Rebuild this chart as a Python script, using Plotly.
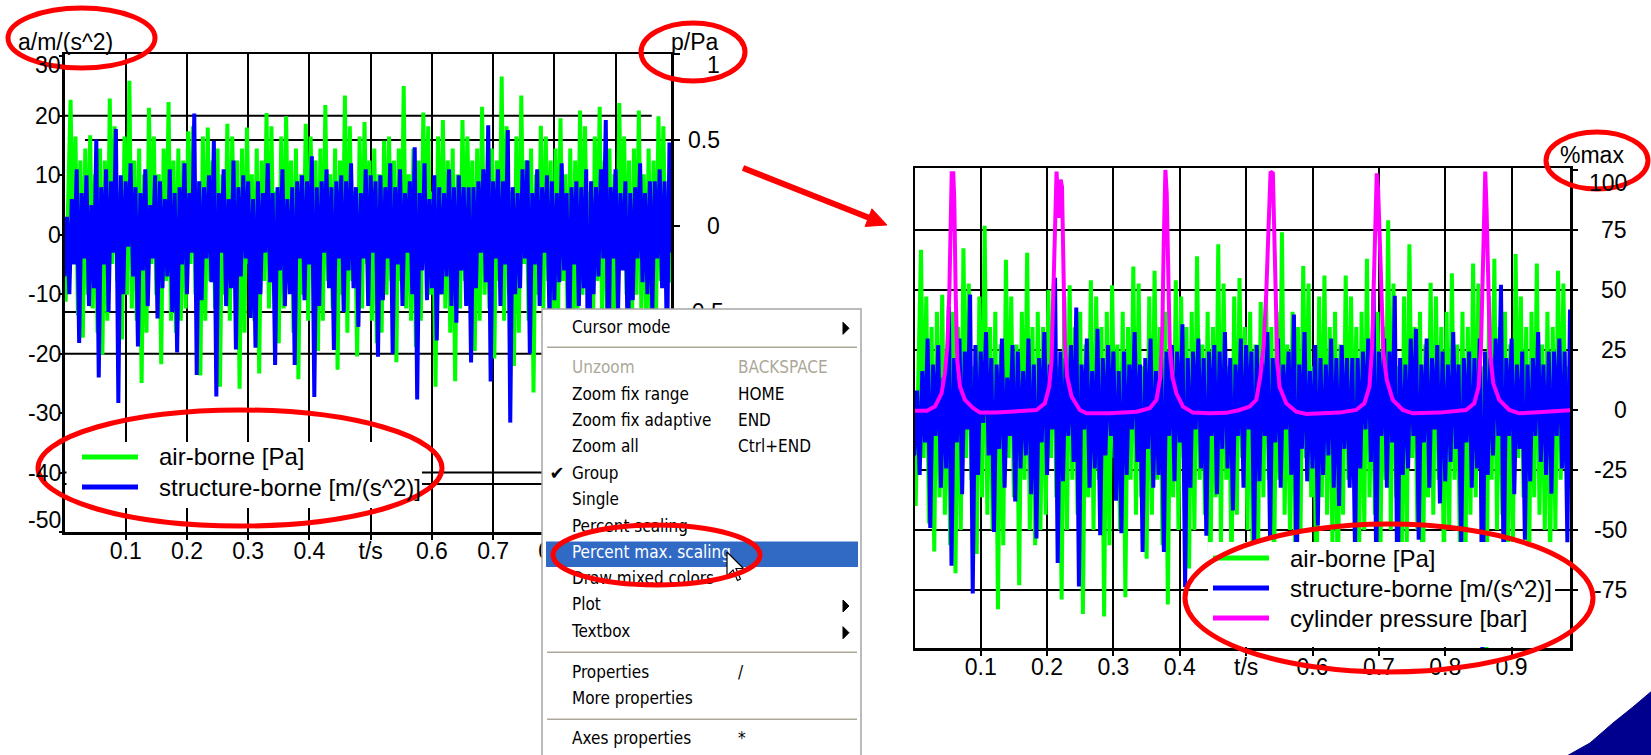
import plotly.graph_objects as go

W, H = 1651, 755
FONT = "Liberation Sans, Arial, Helvetica, sans-serif"
MENU_FONT = "DejaVu Sans Condensed, DejaVu Sans, sans-serif"

# ---------------- data ----------------
SAMPLE_DT = 0.004          # s, spacing of the read-off vertices
AIR_T0 = 0.002             # s, first air-borne vertex
STRUCT_T0 = 0.0            # s, first structure-borne vertex

# air-borne sound pressure [Pa]
air_borne_pa = [
    -0.440, 0.28, 0.734, -0.22, 0.52, -0.52, 0.38, -0.649,
    0.45, -0.40, 0.528, -0.48, 0.30, -0.62, 0.45, -0.748,
    0.38, -0.55, 0.741, -0.22, 0.58, -0.32, 0.20, -0.660,
    0.52, -0.40, 0.844, -0.48, 0.38, -0.55, 0.45, -0.913,
    0.30, -0.62, 0.688, -0.22, 0.52, -0.40, 0.30, -0.803,
    0.45, -0.32, 0.721, -0.55, 0.38, -0.62, 0.45, -0.550,
    0.38, -0.48, 0.550, -0.22, 0.58, -0.40, 0.20, -0.869,
    0.52, -0.55, 0.572, -0.32, 0.38, -0.48, 0.45, -0.935,
    0.30, -0.40, 0.594, -0.55, 0.52, -0.32, 0.38, -0.946,
    0.45, -0.62, 0.572, -0.22, 0.30, -0.55, 0.45, -0.858,
    0.38, -0.32, 0.657, -0.48, 0.58, -0.40, 0.20, -0.682,
    0.52, -0.48, 0.638, -0.32, 0.38, -0.62, 0.45, -0.891,
    0.30, -0.40, 0.594, -0.55, 0.52, -0.22, 0.38, -0.726,
    0.45, -0.55, 0.704, -0.32, 0.30, -0.48, 0.45, -0.836,
    0.38, -0.40, 0.759, -0.62, 0.58, -0.32, 0.20, -0.759,
    0.52, -0.48, 0.605, -0.22, 0.38, -0.55, 0.45, -0.682,
    0.30, -0.62, 0.495, -0.40, 0.52, -0.32, 0.38, -0.792,
    0.45, -0.32, 0.814, -0.48, 0.30, -0.55, 0.45, -0.704,
    0.38, -0.55, 0.660, -0.22, 0.58, -0.40, 0.20, -0.935,
    0.52, -0.40, 0.616, -0.48, 0.38, -0.62, 0.45, -0.902,
    0.30, -0.48, 0.616, -0.32, 0.52, -0.22, 0.38, -0.726,
    0.45, -0.55, 0.693, -0.40, 0.30, -0.48, 0.45, -0.770,
    0.38, -0.32, 0.869, -0.55, 0.58, -0.40, 0.20, -0.814,
    0.52, -0.62, 0.759, -0.22, 0.38, -0.55, 0.45, -0.968,
    0.30, -0.40, 0.583, -0.48, 0.52, -0.32, 0.38, -0.748,
    0.45, -0.55, 0.627, -0.32, 0.30, -0.62, 0.45, -0.836,
    0.38, -0.48, 0.671, -0.40, 0.58, -0.22, 0.20, -1.100,
    0.52, -0.32, 0.693, -0.55, 0.38, -0.48, 0.45, -0.792,
    0.30, -0.62, 0.715, -0.22, 0.52, -0.40, 0.38, -0.880,
    0.45, -0.40, 0.671, -0.48, 0.30, -0.55, 0.45, -0.726,
    0.38, -0.55, 0.638, -0.32, 0.58, -0.22, 0.20, -0.330,
    0.38,
]

# structure-borne acceleration [m/s^2]
structure_borne_ms2 = [
    -7, 3, -10, 6, -5, 11, -18.2, 7,
    -4, 10, -12, 5, -9, 16, -24, 8,
    -5, 11, -13, 9, -3, 17.8, -28.3, 10,
    -10, 9, -2, 12, -7, 8, -18.8, 7,
    -6, 11, -12, 5, -4, 10, -14.1, 9,
    -9, 6, -7, 11, -13, 7, -19.8, 8,
    -5, 12, -10, 7, -3, 20.4, -23.6, 9,
    -11, 8, -4, 10, -8, 15.8, -27.2, 7,
    -3, 11, -12, 6, -9, 12.5, -19.3, 8,
    -7, 10, -4, 9, -14, 6, -19, 9,
    -10, 7, -3, 12, -8, 7, -21.9, 8,
    -6, 11, -12, 6, -10, 8, -21.9, 9,
    -4, 10, -11, 9, -5, 13.2, -27.3, 8,
    -12, 9, -3, 11, -9, 8, -19.4, 9,
    -4, 10, -13, 9, -6, 12, -9, 8,
    -15.5, 7, -4, 11, -12, 10, -3, 9,
    -20.5, 10, -11, 8, -4, 12, -20, 8,
    -5, 11, -12, 7, -3, 9, -10, 14.7,
    -27.7, 7, -6, 12, -11, 6, -9, 10,
    -17.8, 8, -10, 7, -7, 11, -12, 8,
    -14.8, 10, -6, 8, -12, 8, -21.5, 8,
    -9, 9, -3, 11, -8, 18.4, -24.7, 9,
    -4, 11, -12, 9, -5, 17.6, -31.6, 8,
    -10, 7, -9, 11, -4, 12.5, -20, 7,
    -5, 11, -12, 8, -3, 10, -14.4, 9,
    -11, 7, -8, 12, -6, 7, -21, 8,
    -5, 9, -12, 8, -9, 11, -37, 9,
    -10, 8, -7, 11, -4, 19.3, -26, 8,
    -4, 11, -13, 7, -6, 9, -20, 7,
    -11, 8, -4, 12, -8, 7, -10, 9,
    -12.9, 9, -4, 11, -9, 9, -20.4, 15.5,
    -3,
]

# cylinder pressure, already in % of its maximum
cyl_t = [
    0.000, 0.019, 0.031, 0.041, 0.046, 0.0497, 0.0527, 0.0548, 0.0563, 0.0587,
    0.0602, 0.0623, 0.0647, 0.0688, 0.0763, 0.0888, 0.0989, 0.124, 0.159, 0.184,
    0.1967, 0.2032, 0.2068, 0.2092, 0.2122, 0.2143, 0.2175, 0.2205, 0.2225, 0.2245,
    0.2268, 0.2303, 0.2369, 0.2494, 0.2594, 0.2945, 0.3347, 0.3547, 0.3648, 0.3708,
    0.3738, 0.3758, 0.3783, 0.3803, 0.3822, 0.3848, 0.3888, 0.3949, 0.4048, 0.4199,
    0.445, 0.470, 0.490, 0.5052, 0.5153, 0.5213, 0.5263, 0.5303, 0.5338, 0.5368,
    0.5403, 0.5424, 0.5443, 0.5469, 0.5503, 0.5604, 0.5755, 0.5905, 0.6406, 0.6658,
    0.6782, 0.6858, 0.6898, 0.6923, 0.6948, 0.6968, 0.6989, 0.7009, 0.7034, 0.7069,
    0.7119, 0.7209, 0.736, 0.751, 0.7911, 0.8313, 0.8438, 0.8503, 0.8539, 0.8563,
    0.8588, 0.8603, 0.8623, 0.8645, 0.8675, 0.8724, 0.8814, 0.8965, 0.9115, 0.9517,
    0.9842, 0.992,
]
cyl_pct = [
    -0.3, -0.3, 1.4, 6.9, 15.3, 26.4, 48.6, 76.4, 98.6, 98.6,
    87.5, 48.6, 20.8, 9.7, 4.2, 0.7, -1.1, -1.1, -0.7, 0.0,
    2.8, 9.7, 20.8, 48.6, 90.3, 99.3, 80.0, 96.0, 93.0, 62.5,
    27.8, 13.9, 5.6, 0.0, -1.4, -1.4, -0.7, 0.7, 4.2, 13.9,
    34.7, 69.4, 100.0, 90.3, 55.6, 27.8, 13.9, 6.9, 1.4, -1.1,
    -1.4, -1.2, 0.0, 1.4, 4.2, 13.9, 26.4, 48.6, 76.4, 99.3,
    98.6, 76.4, 41.7, 20.8, 9.7, 2.8, -0.7, -1.7, -1.1, 0.0,
    2.8, 9.7, 26.4, 55.6, 90.3, 98.6, 91.7, 76.4, 48.6, 23.6,
    12.5, 4.2, 0.0, -1.4, -1.1, 0.0, 2.8, 9.7, 26.4, 55.6,
    90.3, 99.3, 83.3, 48.6, 23.6, 11.1, 4.2, 0.0, -1.4, -0.7,
    0.0, 0.0,
]

time_ticks = [0.1, 0.2, 0.3, 0.4, 0.5, 0.6, 0.7, 0.8, 0.9]
time_ticktext = ["0.1", "0.2", "0.3", "0.4", "t/s", "0.6", "0.7", "0.8", "0.9"]
# left chart: the 0.9 label lies completely under the context menu
left_time_ticktext = ["0.1", "0.2", "0.3", "0.4", "t/s", "0.6", "0.7", "0.8", ""]
accel_ticks = [30, 20, 10, 0, -10, -20, -30, -40, -50]
accel_grid = [20, 0, -20, -40]
press_ticks = [1, 0.5, 0, -0.5, -1, -1.5]
press_grid = [0.5, 0, -0.5, -1.5]
pct_ticks = [100, 75, 50, 25, 0, -25, -50, -75, -100]
pct_grid = [75, 50, 25, 0, -25, -50, -75]

series_names = ["air-borne [Pa]", "structure-borne [m/(s^2)]", "cylinder pressure [bar]"]
series_colors = ["#00ff00", "#0000ff", "#ff00ff"]

menu_labels = ["Cursor mode", "Unzoom", "Zoom fix range", "Zoom fix adaptive", "Zoom all",
               "Group", "Single", "Percent scaling", "Percent max. scaling",
               "Draw mixed colors", "Plot", "Textbox", "Properties", "More properties",
               "Axes properties"]
menu_shortcuts = ["", "BACKSPACE", "HOME", "END", "Ctrl+END", "", "", "", "", "", "", "",
                  "/", "", "*"]

# ---------------- derived ----------------
t_air = [AIR_T0 + i * SAMPLE_DT for i in range(len(air_borne_pa))]
t_struct = [STRUCT_T0 + i * SAMPLE_DT for i in range(len(structure_borne_ms2))]


def pct_max(vals):
    m = max(abs(v) for v in vals)
    return [100.0 * v / m for v in vals]


def px(x):
    return x / W


def py(y):
    return 1 - y / H


# ---------------- layout geometry (pixels) ----------------
L_X0, L_X1, L_Y0, L_Y1 = 64.7, 671, 54, 532
R_X0, R_X1, R_Y0, R_Y1 = 915, 1570, 168.3, 648.3
MENU_X0, MENU_X1, MENU_Y0 = 542, 861, 309
menu_y = [328.3, 369, 396, 421.7, 448, 474.3, 501, 527.3, 554, 580, 606, 632.7, 673.3, 700, 740]
DISABLED, HILITE, CHECKED = 1, 8, 5
SUBMENU = [0, 10, 11]
SEPARATORS = [347.3, 652.3, 719.3]

fig = go.Figure()

LW = 4
# left chart: green on the pressure axis (y), blue on the acceleration axis (y2, drawn on top)
fig.add_trace(go.Scatter(x=t_air, y=air_borne_pa, mode="lines", xaxis="x", yaxis="y",
                         line=dict(color=series_colors[0], width=LW)))
fig.add_trace(go.Scatter(x=t_struct, y=structure_borne_ms2, mode="lines", xaxis="x", yaxis="y2",
                         line=dict(color=series_colors[1], width=LW)))
# right chart (percent of max)
fig.add_trace(go.Scatter(x=t_air, y=pct_max(air_borne_pa), mode="lines", xaxis="x2", yaxis="y3",
                         line=dict(color=series_colors[0], width=LW)))
fig.add_trace(go.Scatter(x=t_struct, y=pct_max(structure_borne_ms2), mode="lines", xaxis="x2",
                         yaxis="y3", line=dict(color=series_colors[1], width=LW)))
fig.add_trace(go.Scatter(x=cyl_t, y=pct_max(cyl_pct), mode="lines", xaxis="x2", yaxis="y3",
                         line=dict(color=series_colors[2], width=LW)))

# ---------------- context menu (overlay subplot in pixel coordinates) ----------------
OV = dict(xaxis="x3", yaxis="y4", hoverinfo="skip", showlegend=False)
fig.add_trace(go.Scatter(x=[MENU_X0, MENU_X1, MENU_X1, MENU_X0, MENU_X0],
                         y=[MENU_Y0, MENU_Y0, H + 2, H + 2, MENU_Y0], mode="lines",
                         fill="toself", fillcolor="white",
                         line=dict(color="#a5a5a5", width=1.5), **OV))
hy = menu_y[HILITE]
fig.add_trace(go.Scatter(x=[546, 858, 858, 546, 546], y=[hy - 12.5, hy - 12.5, hy + 13, hy + 13, hy - 12.5],
                         mode="lines", fill="toself", fillcolor="#316ac5",
                         line=dict(color="#316ac5", width=0), **OV))
sx, sy = [], []
for s in SEPARATORS:
    sx += [547, 857, None]
    sy += [s, s, None]
fig.add_trace(go.Scatter(x=sx, y=sy, mode="lines", line=dict(color="#aca899", width=1.5), **OV))
txt_colors = []
for i in range(len(menu_labels)):
    txt_colors.append("#aca899" if i == DISABLED else ("white" if i == HILITE else "black"))
fig.add_trace(go.Scatter(x=[572] * len(menu_labels), y=menu_y, mode="text", text=menu_labels,
                         textposition="middle right", cliponaxis=False,
                         textfont=dict(family=MENU_FONT, size=17, color=txt_colors), **OV))
sc_idx = [i for i, s in enumerate(menu_shortcuts) if s]
fig.add_trace(go.Scatter(x=[738] * len(sc_idx), y=[menu_y[i] for i in sc_idx], mode="text",
                         text=[menu_shortcuts[i] for i in sc_idx], textposition="middle right",
                         cliponaxis=False,
                         textfont=dict(family=MENU_FONT, size=17, color=[txt_colors[i] for i in sc_idx]),
                         **OV))
fig.add_trace(go.Scatter(x=[557], y=[menu_y[CHECKED]], mode="text", text=["\u2714"],
                         textposition="middle center",
                         textfont=dict(family="DejaVu Sans", size=18, color="black"), **OV))
tx, ty = [], []
for i in SUBMENU:
    yy = menu_y[i]
    tx += [843, 843, 849, 843, None]
    ty += [yy - 6, yy + 6, yy, yy - 6, None]
fig.add_trace(go.Scatter(x=tx, y=ty, mode="lines", fill="toself", fillcolor="black",
                         line=dict(color="black", width=1), **OV))
# mouse pointer
cx0, cy0, sc = 727, 552, 1.5
arrow_pts = [(0, 0), (0, 16), (4, 12), (7, 19), (9, 18), (6, 11), (11, 11), (0, 0)]
fig.add_trace(go.Scatter(x=[cx0 + sc * a for a, b in arrow_pts], y=[cy0 + sc * b for a, b in arrow_pts],
                         mode="lines", fill="toself", fillcolor="white",
                         line=dict(color="black", width=1.2), **OV))

# ---------------- shapes ----------------
shapes = []
GRID = dict(color="black", width=2)
for v in accel_grid:
    x1 = 0.959 if v == 20 else 0.9905
    shapes.append(dict(type="line", xref="x", yref="y2", x0=0.0004, x1=x1, y0=v, y1=v,
                       line=GRID, layer="below"))
for v in press_grid:
    x0 = 0.0335 if v == 0.5 else 0.0004
    shapes.append(dict(type="line", xref="x", yref="y", x0=x0, x1=0.9905, y0=v, y1=v,
                       line=GRID, layer="below"))
for v in pct_grid:
    shapes.append(dict(type="line", xref="x2", yref="y3", x0=0.001, x1=0.988, y0=v, y1=v,
                       line=GRID, layer="below"))


def prect(x0, y0, x1, y1, **kw):
    d = dict(type="rect", xref="paper", yref="paper", x0=px(x0), x1=px(x1), y0=py(y1), y1=py(y0))
    d.update(kw)
    return d


def pline(x0, y0, x1, y1, **kw):
    d = dict(type="line", xref="paper", yref="paper", x0=px(x0), x1=px(x1), y0=py(y0), y1=py(y1))
    d.update(kw)
    return d


# legend boxes
shapes.append(prect(66.5, 442, 422, 508, fillcolor="white", line=dict(width=0), layer="above"))
shapes.append(prect(1208, 542, 1555, 647, fillcolor="white", line=dict(width=0), layer="above"))
left_leg_y = [457, 487]
right_leg_y = [558, 588, 618]
for i, yy in enumerate(left_leg_y):
    shapes.append(pline(82, yy, 138, yy, line=dict(color=series_colors[i], width=5), layer="above"))
for i, yy in enumerate(right_leg_y):
    shapes.append(pline(1213, yy, 1269, yy, line=dict(color=series_colors[i], width=5), layer="above"))

RED = "rgb(255,0,0)"
ellipses = [(8, 8, 155, 68), (641, 23, 745, 81), (38, 410, 442, 526), (553, 525, 760, 585),
            (1546, 132, 1648, 189), (1185, 524, 1593, 672)]
for (x0, y0, x1, y1) in ellipses:
    shapes.append(dict(type="circle", xref="paper", yref="paper", x0=px(x0), x1=px(x1),
                       y0=py(y1), y1=py(y0), line=dict(color=RED, width=5), layer="above"))
# red arrow
shapes.append(pline(743, 168, 869, 217.8, line=dict(color=RED, width=6), layer="above"))
head = [(887, 225), (865.1, 226.4), (871.9, 208.8)]
shapes.append(dict(type="path", xref="paper", yref="paper",
                   path="M " + " L ".join(f"{px(a):.5f},{py(b):.5f}" for a, b in head) + " Z",
                   fillcolor=RED, line=dict(color=RED, width=1), layer="above"))
# navy corner decoration
corner = [(1565, 757), (1590, 743), (1613, 723), (1633, 707), (1653, 690), (1653, 757)]
shapes.append(dict(type="path", xref="paper", yref="paper",
                   path="M " + " L ".join(f"{px(a):.5f},{py(b):.5f}" for a, b in corner) + " Z",
                   fillcolor="#00008f", line=dict(color="#00008f", width=1), layer="above"))

# ---------------- annotations ----------------
ann = []
TF = dict(family=FONT, size=23, color="black")
for v in accel_ticks:
    shift = -9 if v == 30 else (12 if v == -50 else 0)
    ann.append(dict(xref="paper", yref="y2", x=px(62.5), y=v, text=str(v), showarrow=False,
                    xanchor="right", yanchor="middle", yshift=shift, font=TF))
for v in press_ticks[:3]:
    shift = -11 if v == 1 else 0
    ann.append(dict(xref="paper", yref="y", x=px(722), y=v, text=f"{v:g}", showarrow=False,
                    xanchor="right", yanchor="middle", yshift=shift, font=TF))
for v in pct_ticks:
    shift = -13 if v == 100 else (15 if v == -100 else 0)
    ann.append(dict(xref="paper", yref="y3", x=px(1629), y=v, text=str(v), showarrow=False,
                    xanchor="right", yanchor="middle", yshift=shift, font=TF))
ann.append(dict(xref="paper", yref="paper", x=px(16), y=py(42), text="a/m/(s^2)", showarrow=False,
                xanchor="left", yanchor="middle", font=TF))
ann.append(dict(xref="paper", yref="paper", x=px(669), y=py(42), text="p/Pa", showarrow=False,
                xanchor="left", yanchor="middle", font=TF))
ann.append(dict(xref="paper", yref="paper", x=px(1558), y=py(155), text="%max", showarrow=False,
                xanchor="left", yanchor="middle", font=TF))
LF = dict(family=FONT, size=24, color="black")
for i, yy in enumerate(left_leg_y):
    ann.append(dict(xref="paper", yref="paper", x=px(157), y=py(yy), text=series_names[i],
                    showarrow=False, xanchor="left", yanchor="middle", font=LF))
for i, yy in enumerate(right_leg_y):
    ann.append(dict(xref="paper", yref="paper", x=px(1288), y=py(yy), text=series_names[i],
                    showarrow=False, xanchor="left", yanchor="middle", font=LF))

# ---------------- axes ----------------
AX = dict(showline=True, mirror=True, linecolor="black", linewidth=2.5, zeroline=False,
          ticks="outside", ticklen=5, tickwidth=2, tickcolor="black", fixedrange=True)
XT = dict(tickvals=time_ticks, showgrid=True, gridcolor="black", gridwidth=2,
          tickfont=TF, ticklabelstandoff=-8)

fig.update_layout(
    width=W, height=H, margin=dict(l=0, r=0, t=0, b=0, pad=0),
    paper_bgcolor="white", plot_bgcolor="rgba(0,0,0,0)", showlegend=False, hovermode=False,
    xaxis=dict(domain=[px(L_X0), px(L_X1)], range=[0.0004, 0.9905], anchor="y",
               ticktext=left_time_ticktext, **AX, **XT),
    # pressure axis (right side) - main axis of the left chart, draws the frame
    yaxis=dict(domain=[py(L_Y1), py(L_Y0)], range=[-1.779, 1.0], anchor="x", side="right",
               tickvals=press_ticks, ticktext=["", "", "", "-0.5", "", ""],
               showgrid=False, showline=True, mirror=True, linecolor="black", linewidth=2.5,
               zeroline=False, ticks="outside", ticklen=6, tickwidth=2, tickcolor="black",
               tickfont=TF, fixedrange=True),
    # acceleration axis (left side)
    yaxis2=dict(overlaying="y", side="left", range=[-50, 30.4], anchor="x", tickvals=accel_ticks,
                showticklabels=False, showgrid=False, showline=False, zeroline=False,
                ticks="outside", ticklen=5, tickwidth=2, tickcolor="black", fixedrange=True),
    xaxis2=dict(domain=[px(R_X0), px(R_X1)], range=[0.001, 0.988], anchor="y3",
                ticktext=time_ticktext, **AX, **XT),
    yaxis3=dict(domain=[py(R_Y1), py(R_Y0)], range=[-99.3, 100.7], anchor="x2", side="right",
                tickvals=pct_ticks, showticklabels=False, showgrid=False, **AX),
    xaxis3=dict(domain=[0, 1], range=[0, W], anchor="y4", visible=False, fixedrange=True),
    yaxis4=dict(domain=[0, 1], range=[H, 0], anchor="x3", visible=False, fixedrange=True),
    shapes=shapes, annotations=ann,
)

fig.write_html("out.html", config={"displayModeBar": False, "staticPlot": True},
               post_script="document.body.style.margin='0px';")
